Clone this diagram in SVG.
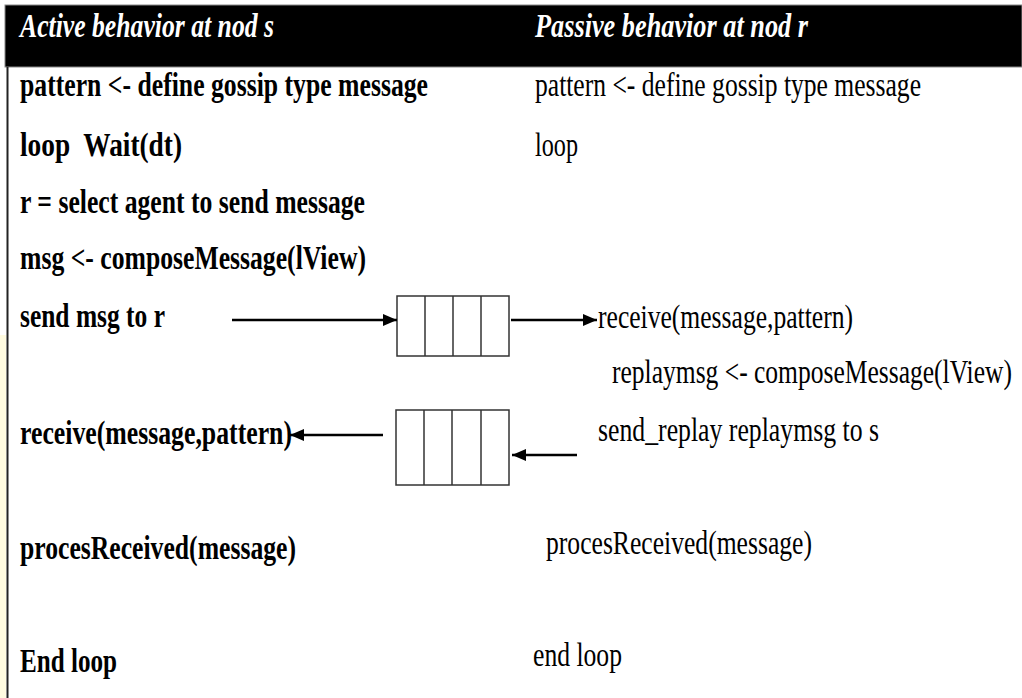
<svg xmlns="http://www.w3.org/2000/svg" width="1022" height="698" viewBox="0 0 1022 698">
<style>
  text { font-family: "Liberation Serif", "Times New Roman", serif; font-size: 34px; fill: #000; }
  .hdr { font-weight: bold; font-style: italic; fill: #fff; }
  .b { font-weight: bold; }
  .conn { stroke: #000; stroke-width: 2.4; fill: none; }
  .q { fill: #fff; stroke: #333; stroke-width: 1.5; }
</style>
<defs>
  <marker id="ah" viewBox="0 0 14 12" refX="14" refY="6" markerWidth="14" markerHeight="12" markerUnits="userSpaceOnUse" orient="auto">
    <path d="M0,0 L14,6 L0,12 Z" fill="#000"/>
  </marker>
</defs>
<rect x="0" y="0" width="1022" height="698" fill="#fff"/>
<rect x="0" y="335" width="6" height="363" fill="#fffbe0"/>
<g id="header">
  <rect x="5" y="5" width="1017" height="62" fill="#000" stroke="#888" stroke-width="1"/>
  <text class="hdr" x="20" y="37" textLength="254" lengthAdjust="spacingAndGlyphs">Active behavior at nod s</text>
  <text class="hdr" x="535" y="37" textLength="273" lengthAdjust="spacingAndGlyphs">Passive behavior at nod r</text>
</g>
<line x1="7.5" y1="67" x2="7.5" y2="698" stroke="#222" stroke-width="2"/>
<g id="active">
  <text class="b" x="20" y="96" textLength="408" lengthAdjust="spacingAndGlyphs">pattern &lt;- define gossip type message</text>
  <text class="b" x="20" y="156" textLength="162" lengthAdjust="spacingAndGlyphs" xml:space="preserve">loop  Wait(dt)</text>
  <text class="b" x="20" y="213" textLength="345" lengthAdjust="spacingAndGlyphs">r = select agent to send message</text>
  <text class="b" x="20" y="269" textLength="346" lengthAdjust="spacingAndGlyphs">msg &lt;- composeMessage(lView)</text>
  <text class="b" x="20" y="327" textLength="145" lengthAdjust="spacingAndGlyphs">send msg to r</text>
  <text class="b" x="20" y="444" textLength="272" lengthAdjust="spacingAndGlyphs">receive(message,pattern)</text>
  <text class="b" x="20" y="559" textLength="276" lengthAdjust="spacingAndGlyphs">procesReceived(message)</text>
  <text class="b" x="20" y="672" textLength="97" lengthAdjust="spacingAndGlyphs">End loop</text>
</g>
<g id="passive">
  <text x="535" y="96" textLength="386" lengthAdjust="spacingAndGlyphs">pattern &lt;- define gossip type message</text>
  <text x="535" y="156" textLength="43" lengthAdjust="spacingAndGlyphs">loop</text>
  <text x="598" y="328" textLength="255" lengthAdjust="spacingAndGlyphs">receive(message,pattern)</text>
  <text x="612" y="383" textLength="400" lengthAdjust="spacingAndGlyphs">replaymsg &lt;- composeMessage(lView)</text>
  <text x="598" y="441" textLength="281" lengthAdjust="spacingAndGlyphs">send_replay replaymsg to s</text>
  <text x="546" y="554" textLength="266" lengthAdjust="spacingAndGlyphs">procesReceived(message)</text>
  <text x="533" y="666" textLength="89" lengthAdjust="spacingAndGlyphs">end loop</text>
</g>
<g id="queue1">
  <rect class="q" x="397" y="296" width="112" height="60"/>
  <line class="q" x1="425" y1="296" x2="425" y2="356"/>
  <line class="q" x1="453" y1="296" x2="453" y2="356"/>
  <line class="q" x1="481" y1="296" x2="481" y2="356"/>
</g>
<g id="queue2">
  <rect class="q" x="396" y="410" width="113" height="75"/>
  <line class="q" x1="424" y1="410" x2="424" y2="485"/>
  <line class="q" x1="452" y1="410" x2="452" y2="485"/>
  <line class="q" x1="481" y1="410" x2="481" y2="485"/>
</g>
<g id="connectors">
  <line class="conn" x1="232" y1="320" x2="397" y2="320" marker-end="url(#ah)"/>
  <line class="conn" x1="511" y1="320" x2="597" y2="320" marker-end="url(#ah)"/>
  <line class="conn" x1="577" y1="455" x2="512" y2="455" marker-end="url(#ah)"/>
  <line class="conn" x1="383" y1="435" x2="290" y2="435" marker-end="url(#ah)"/>
</g>
</svg>
